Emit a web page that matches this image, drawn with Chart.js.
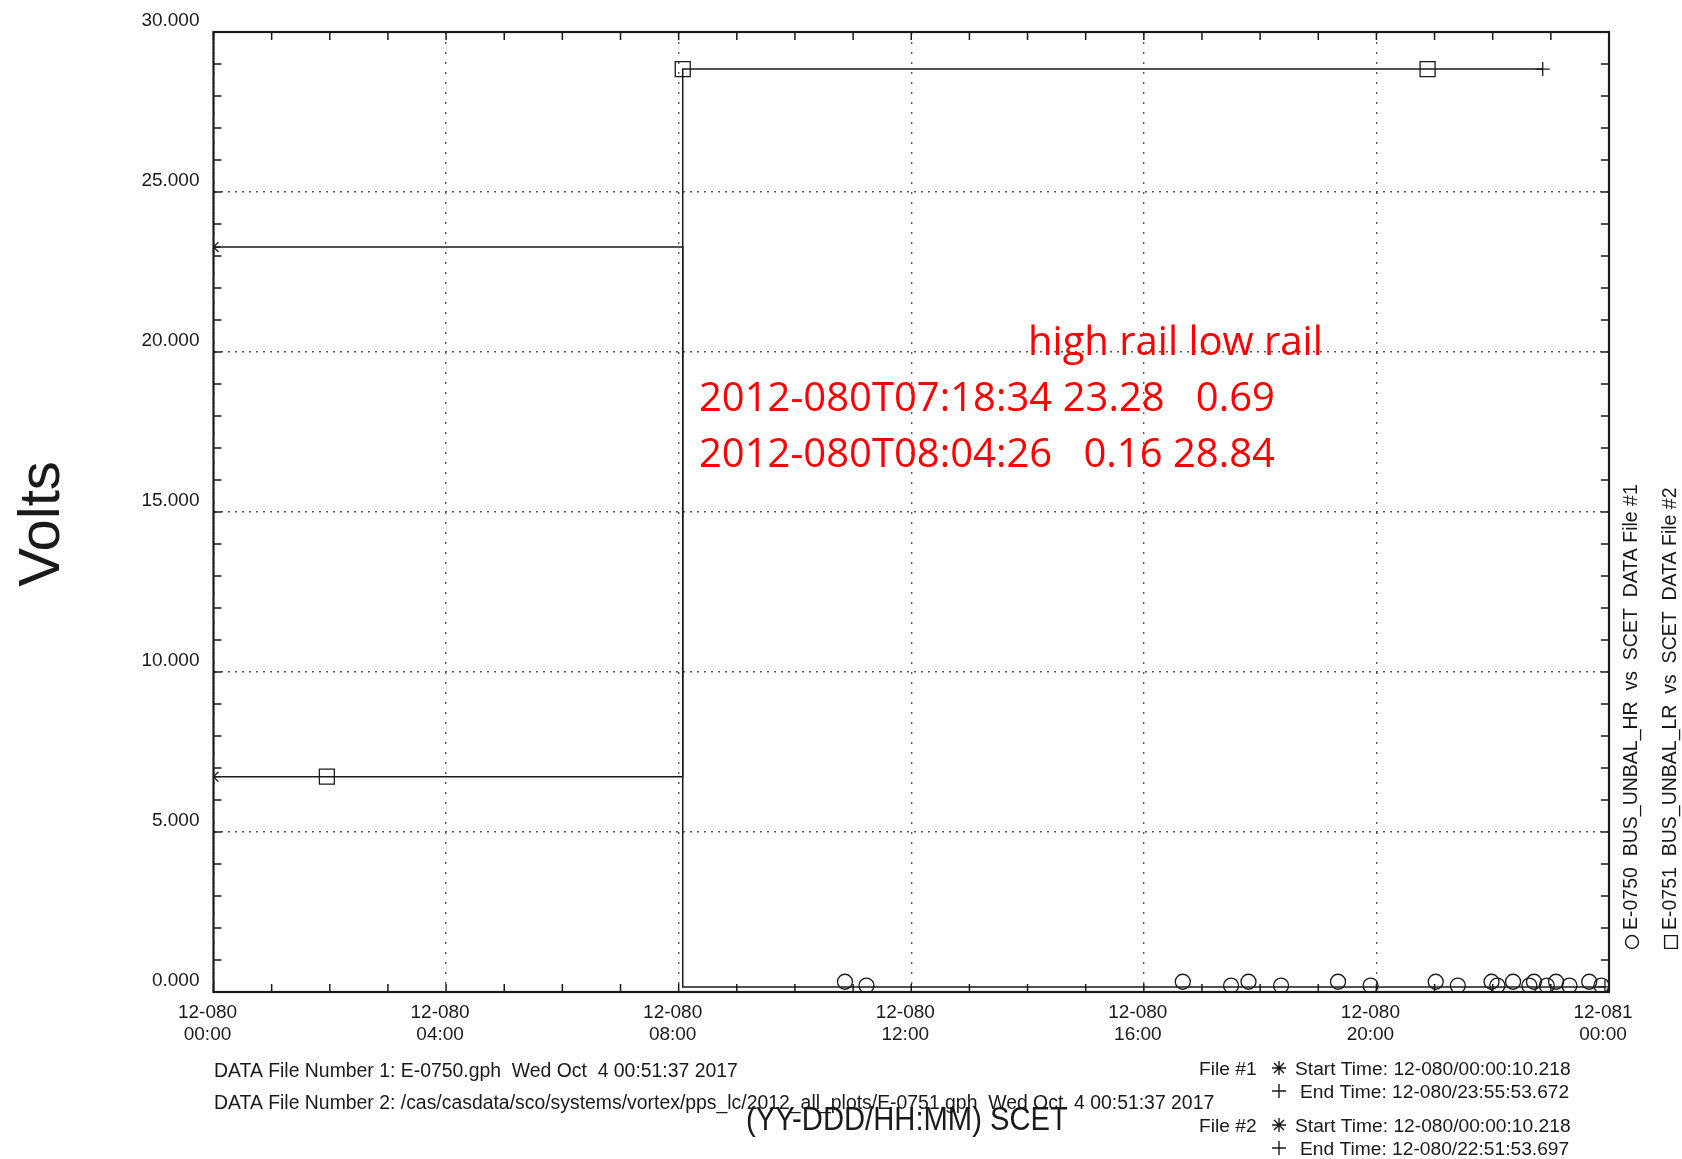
<!DOCTYPE html>
<html>
<head>
<meta charset="utf-8">
<script src="https://cdn.jsdelivr.net/npm/chart.js@4.4.1/dist/chart.umd.min.js"></script>
<style>
  html, body { margin: 0; padding: 0; background: #fff; }
  #wrap { width: 1682px; height: 1159px; }
</style>
</head>
<body>
<div id="wrap"><canvas id="plot" width="1682" height="1159"></canvas></div>
<script>
// E-0750 BUS_UNBAL_HR (high rail), hours since 12-080 00:00
const hrTimes = [0, 8.07, 8.07, 23.93];
const hrVolts = [23.28, 23.28, 0.16, 0.16];
// E-0751 BUS_UNBAL_LR (low rail)
const lrTimes = [0, 8.07, 8.07, 22.86];
const lrVolts = [6.73, 6.73, 28.84, 28.84];

// plot symbols (circles on HR, squares on LR)
const hrMarkTimes = [10.86, 11.23, 16.67, 17.50, 17.80, 18.36, 19.34, 19.90, 21.02, 21.40,
                     21.98, 22.08, 22.35, 22.63, 22.71, 22.93, 23.09, 23.32, 23.66, 23.87];
const hrMarkVolts = [0.32, 0.20, 0.32, 0.20, 0.32, 0.20, 0.32, 0.20, 0.32, 0.20,
                     0.32, 0.20, 0.32, 0.20, 0.32, 0.20, 0.32, 0.20, 0.32, 0.20];
const lrMarkTimes = [1.95, 8.07, 20.88];
const lrMarkVolts = [6.73, 28.84, 28.84];

// start (*) and end (+) symbols
const startTimes = [0, 0];
const startVolts = [23.28, 6.73];
const endTimes = [23.93, 22.86];
const endVolts = [0.16, 28.84];

const xTicks = [0, 4, 8, 12, 16, 20, 24];
const dayLabels = ['12-080', '12-080', '12-080', '12-080', '12-080', '12-080', '12-081'];
const hourLabels = ['00:00', '04:00', '08:00', '12:00', '16:00', '20:00', '00:00'];

const noteLines = ['2012-080T07:18:34 23.28   0.69', '2012-080T08:04:26   0.16 28.84'];

function pts(xs, ys) {
  return xs.map((x, i) => ({x: x, y: ys[i]}));
}

const ink = '#1a1a1a';
const axisFont = 'Liberation Sans, Arial, sans-serif';

const decor = {
  id: 'decor',
  afterDatasetsDraw(chart) {
    const ctx = chart.ctx;
    const a = chart.chartArea;
    const xs = chart.scales.x, ys = chart.scales.y;
    ctx.save();
    ctx.strokeStyle = ink;
    ctx.lineWidth = 1.5;
    ctx.beginPath();
    for (let h = 0; h <= 24; h++) {
      const px = xs.getPixelForValue(h);
      ctx.moveTo(px, a.bottom); ctx.lineTo(px, a.bottom - 8);
      ctx.moveTo(px, a.top); ctx.lineTo(px, a.top + 8);
    }
    for (let v = 0; v <= 30; v++) {
      const py = ys.getPixelForValue(v);
      ctx.moveTo(a.left, py); ctx.lineTo(a.left + 8, py);
      ctx.moveTo(a.right, py); ctx.lineTo(a.right - 8, py);
    }
    ctx.stroke();
    ctx.lineWidth = 2.2;
    ctx.strokeRect(a.left, a.top, a.right - a.left, a.bottom - a.top);
    ctx.restore();
  },
  afterDraw(chart) {
    const ctx = chart.ctx;
    ctx.save();
    ctx.fillStyle = ink;

    // y title
    ctx.save();
    ctx.translate(59, 524);
    ctx.rotate(-Math.PI / 2);
    ctx.font = '58px ' + axisFont;
    ctx.textAlign = 'center';
    ctx.textBaseline = 'alphabetic';
    ctx.fillText('Volts', 0, 0);
    ctx.restore();

    // footer
    ctx.font = '19.4px ' + axisFont;
    ctx.textAlign = 'left';
    ctx.textBaseline = 'alphabetic';
    ctx.fillText('DATA File Number 1: E-0750.gph  Wed Oct  4 00:51:37 2017', 214, 1077);
    ctx.fillText('DATA File Number 2: /cas/casdata/sco/systems/vortex/pps_lc/2012_all_plots/E-0751.gph  Wed Oct  4 00:51:37 2017', 214, 1109);

    ctx.font = '19.2px ' + axisFont;
    ctx.fillText('File #1', 1199, 1075);
    ctx.fillText('Start Time: 12-080/00:00:10.218', 1295, 1075);
    ctx.fillText('End Time: 12-080/23:55:53.672', 1300, 1098);
    ctx.fillText('File #2', 1199, 1132);
    ctx.fillText('Start Time: 12-080/00:00:10.218', 1295, 1132);
    ctx.fillText('End Time: 12-080/22:51:53.697', 1300, 1155);

    const sym = {radius: 7, borderWidth: 1.4};
    ctx.strokeStyle = ink;
    ctx.lineWidth = 1.4;
    Chart.helpers.drawPoint(ctx, Object.assign({pointStyle: 'star'}, sym), 1279, 1068);
    Chart.helpers.drawPoint(ctx, Object.assign({pointStyle: 'cross'}, sym), 1279, 1091);
    Chart.helpers.drawPoint(ctx, Object.assign({pointStyle: 'star'}, sym), 1279, 1125);
    Chart.helpers.drawPoint(ctx, Object.assign({pointStyle: 'cross'}, sym), 1279, 1148);

    // x title (slightly condensed like the original plotter font)
    ctx.save();
    ctx.translate(907, 1130);
    ctx.scale(0.885, 1);
    ctx.font = '33px ' + axisFont;
    ctx.textAlign = 'center';
    ctx.fillText('(YY-DDD/HH:MM) SCET', 0, 0);
    ctx.restore();

    // right side legend
    ctx.fillStyle = 'rgba(0,0,0,0)';
    Chart.helpers.drawPoint(ctx, {pointStyle: 'circle', radius: 6.5, borderWidth: 1.3}, 1632, 942);
    Chart.helpers.drawPoint(ctx, {pointStyle: 'rect', radius: 9, borderWidth: 1.3}, 1671, 942);
    ctx.fillStyle = ink;
    ctx.font = '19.5px ' + axisFont;
    ctx.textAlign = 'left';
    ctx.textBaseline = 'middle';
    ctx.save();
    ctx.translate(1632, 930);
    ctx.rotate(-Math.PI / 2);
    ctx.fillText('E-0750  BUS_UNBAL_HR  vs  SCET  DATA File #1', 0, 0);
    ctx.restore();
    ctx.save();
    ctx.translate(1671, 930);
    ctx.rotate(-Math.PI / 2);
    ctx.fillText('E-0751  BUS_UNBAL_LR  vs  SCET  DATA File #2', 0, 0);
    ctx.restore();

    // red annotation
    ctx.fillStyle = '#ff0000';
    ctx.font = '40px "Open Sans", "Noto Sans", sans-serif';
    ctx.textAlign = 'left';
    ctx.textBaseline = 'alphabetic';
    ctx.fillText('high rail low rail', 1028, 355);
    ctx.fillText(noteLines[0], 699, 411);
    ctx.fillText(noteLines[1], 699, 467);
    ctx.restore();
  }
};

const lineStyle = {borderColor: ink, borderWidth: 1.5, pointRadius: 0, tension: 0, fill: false};
const markStyle = {showLine: false, borderColor: ink, backgroundColor: 'rgba(0,0,0,0)', pointBorderWidth: 1.3};

new Chart(document.getElementById('plot'), {
  type: 'line',
  data: {
    datasets: [
      Object.assign({label: 'E-0750 BUS_UNBAL_HR', data: pts(hrTimes, hrVolts)}, lineStyle),
      Object.assign({label: 'E-0751 BUS_UNBAL_LR', data: pts(lrTimes, lrVolts)}, lineStyle),
      Object.assign({label: 'HR symbols', data: pts(hrMarkTimes, hrMarkVolts), pointStyle: 'circle', pointRadius: 7.5}, markStyle),
      Object.assign({label: 'LR symbols', data: pts(lrMarkTimes, lrMarkVolts), pointStyle: 'rect', pointRadius: 10.6}, markStyle),
      Object.assign({label: 'start', data: pts(startTimes, startVolts), pointStyle: 'star', pointRadius: 7}, markStyle),
      Object.assign({label: 'end', data: pts(endTimes, endVolts), pointStyle: 'cross', pointRadius: 7}, markStyle)
    ]
  },
  options: {
    responsive: false,
    animation: false,
    events: [],
    layout: {padding: {left: 123.5, right: 73, top: 32, bottom: 107}},
    plugins: {legend: {display: false}, tooltip: {enabled: false}},
    scales: {
      x: {
        type: 'linear',
        min: 0,
        max: 24,
        afterBuildTicks(scale) { scale.ticks = xTicks.map(v => ({value: v})); },
        afterFit(scale) { scale.height = 60; scale.paddingLeft = 0; scale.paddingRight = 0; },
        grid: {color: '#555', lineWidth: 1.4, drawTicks: false},
        border: {display: false, dash: [2, 8]},
        ticks: {
          padding: 9,
          labelOffset: -6,
          maxRotation: 0,
          autoSkip: false,
          color: ink,
          font: {family: axisFont, size: 19, lineHeight: 1.2},
          callback(v) {
            const i = xTicks.indexOf(v);
            return [dayLabels[i], hourLabels[i]];
          }
        }
      },
      y: {
        min: 0,
        max: 30,
        afterFit(scale) { scale.width = 90; scale.paddingTop = 0; scale.paddingBottom = 0; },
        grid: {color: '#555', lineWidth: 1.4, drawTicks: false},
        border: {display: false, dash: [2, 5]},
        ticks: {
          stepSize: 5,
          padding: 14,
          labelOffset: -11,
          color: ink,
          font: {family: axisFont, size: 19},
          callback(v) { return v.toFixed(3); }
        }
      }
    }
  },
  plugins: [decor]
});
</script>
</body>
</html>
